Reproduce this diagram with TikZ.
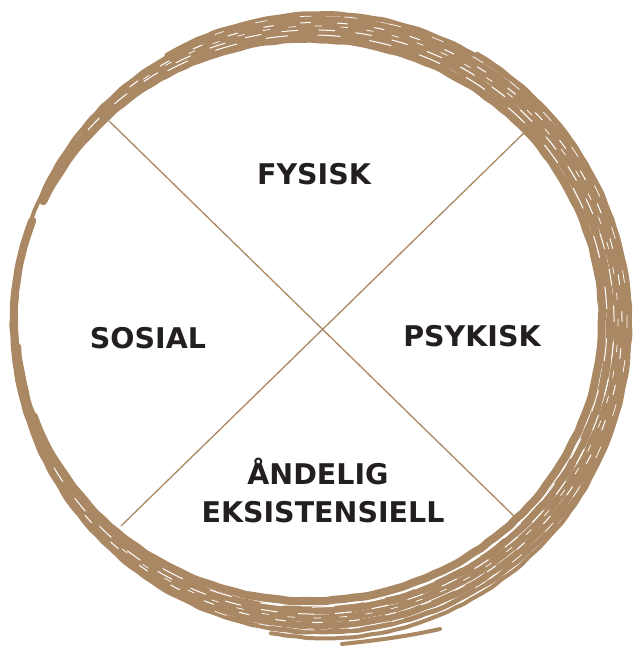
\documentclass[tikz,border=0pt]{standalone}
\usepackage{fontspec}
\setmainfont{DejaVu Sans}
\usetikzlibrary{decorations.pathmorphing}
\definecolor{tan}{RGB}{170,136,99}
\definecolor{ink}{RGB}{35,31,32}
\newcommand\barc[6][]{\draw[brush,#1] (#2) ++({#3*cos(#5)},{#4*sin(#5)}) arc[start angle=#5,end angle=#6,x radius=#3,y radius=#4];}
\begin{document}
\begin{tikzpicture}[x=1pt,y=1pt,
  brush/.style={draw=tan,line cap=round},
  rough/.style={decorate,decoration={random steps,segment length=9pt,amplitude=0.6pt},rounded corners=3pt},
  streak/.style={draw=white,line width=1pt,line cap=round,dash pattern=on 16pt off 21pt},
  cross/.style={draw=tan,line width=1.3pt},
  lbl/.style={text=ink,font=\fontsize{28.5}{37}\selectfont\bfseries,align=center,inner sep=0pt}]
\useasboundingbox (0,0) rectangle (632,647);
\pgfmathsetseed{11}
% brush ring: strokes sharing the left edge, fanning out to the right
\barc[line width=8pt,rough]{309,327}{293}{281}{-160}{155}
\barc[line width=8pt,rough]{313,325.5}{297}{289}{-175}{150}
\barc[line width=8pt,rough]{316,325}{302}{296}{-200}{140}
\barc[line width=7pt,rough]{319,324.5}{305}{303}{-190}{130}
\barc[line width=5pt,rough]{321,324}{308}{309}{-170}{120}
\barc[line width=4pt,rough]{320,325}{306}{306}{-250}{-120}
\barc[line width=4pt]{311,326}{295}{284}{180}{240}
\barc[line width=4pt,rough]{324,322}{306}{313}{-100}{60}
% outer tail at the bottom
\coordinate (t0) at (342,3);
\coordinate (t1) at (440,18);
\draw[brush,line width=4pt] (t0) .. controls (370,6) and (405,10) .. (t1);
% light streaks inside the band
\barc[streak]{314,325}{300}{292}{-150}{140}
\barc[streak,dash pattern=on 10pt off 27pt]{318,324.5}{304}{300}{-140}{130}
\barc[streak,dash pattern=on 22pt off 30pt]{311,326}{296}{286}{-120}{120}
\barc[streak,line width=0.7pt,dash pattern=on 7pt off 19pt]{316,325}{302}{296}{-130}{125}
\barc[streak,line width=0.7pt,dash pattern=on 12pt off 33pt]{320,324}{307}{307}{-110}{110}
% cross
\coordinate (tl) at (109,526);
\coordinate (br) at (518,127);
\coordinate (tr) at (528,518);
\coordinate (bl) at (121,121);
\draw[cross] (tl) -- (br);
\draw[cross] (tr) -- (bl);
% labels
\node[lbl] (fysisk) at (314,473) {FYSISK};
\node[lbl] (sosial) at (148,309) {SOSIAL};
\node[lbl] (psykisk) at (472,311) {PSYKISK};
\node[lbl,anchor=base] (andelig) at (318,162) {ÅNDELIG};
\node[lbl,anchor=base] (eksist) at (323,124) {EKSISTENSIELL};
\end{tikzpicture}
\end{document}
